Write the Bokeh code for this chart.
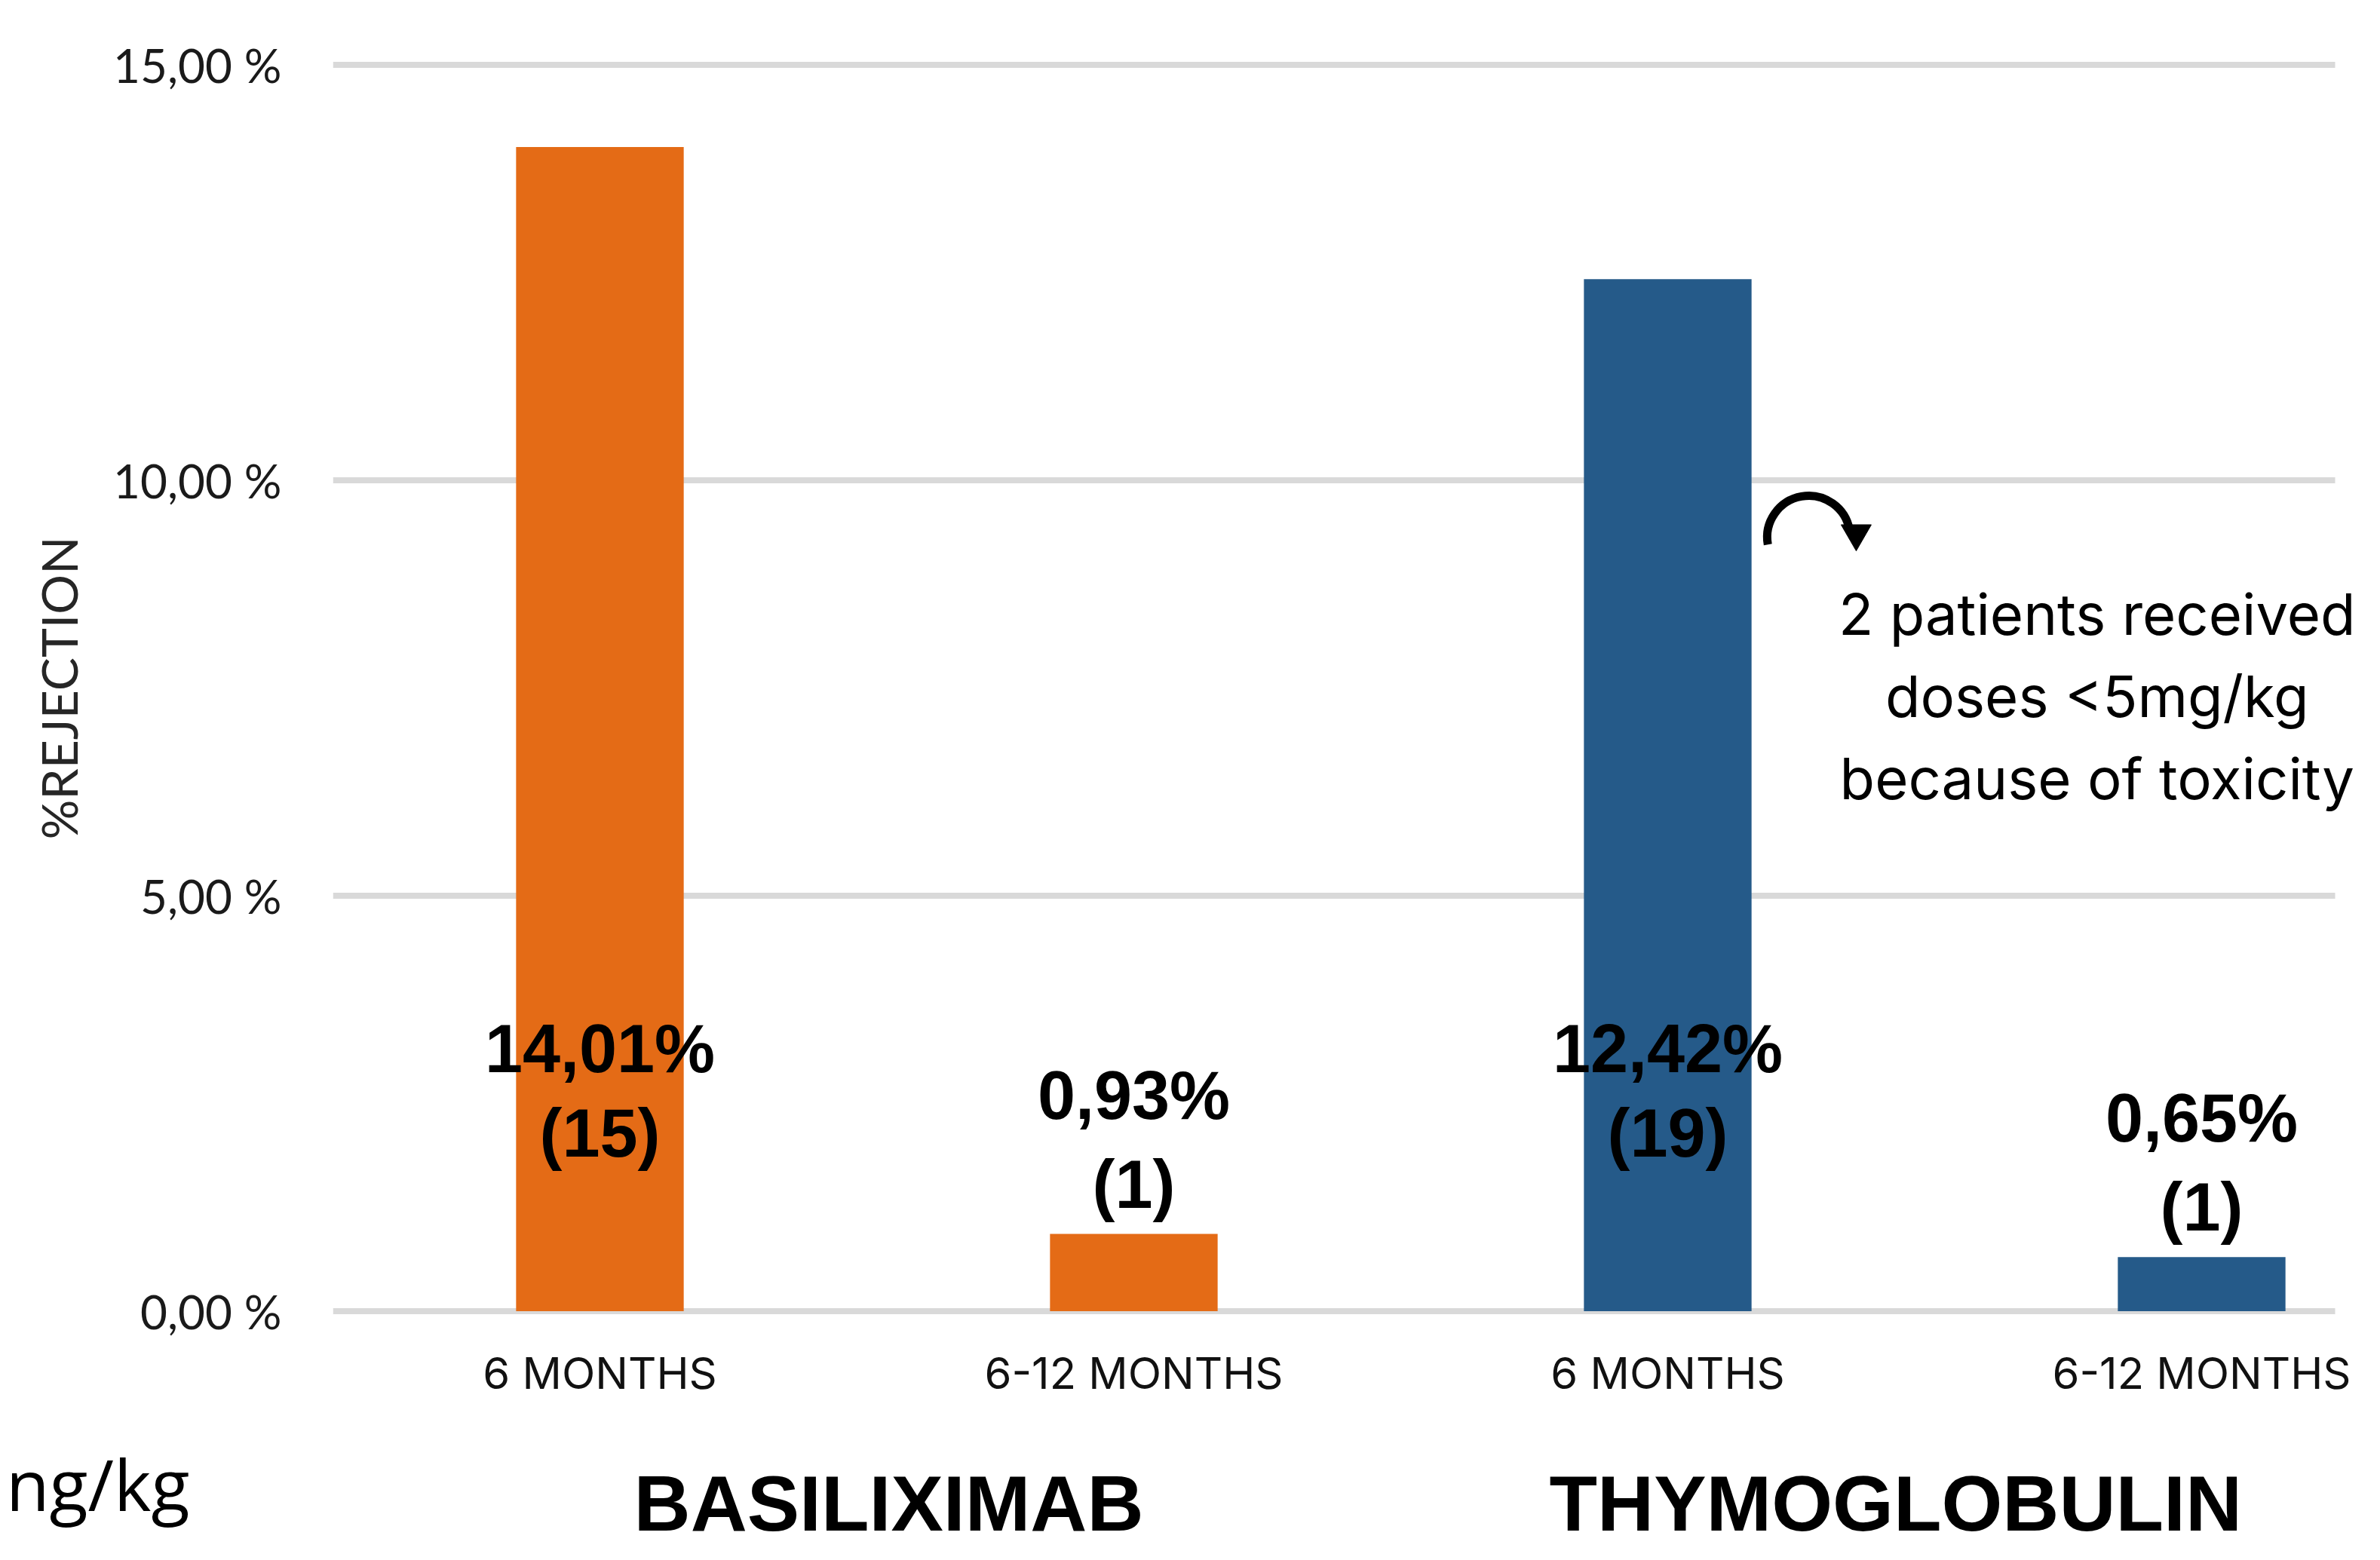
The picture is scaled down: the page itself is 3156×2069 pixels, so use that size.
from math import pi
from bokeh.plotting import figure
from bokeh.layouts import column
from bokeh.models import ColumnDataSource, Range1d, FixedTicker, Label
from bokeh.embed import file_html
from bokeh.resources import INLINE
from bokeh.core.properties import value

# ---------------- data ----------------
periods = ["6 MONTHS", "6-12 MONTHS", "6 MONTHS", "6-12 MONTHS"]
groups = ["BASILIXIMAB", "BASILIXIMAB", "THYMOGLOBULIN", "THYMOGLOBULIN"]
rejection_pct = [14.01, 0.93, 12.42, 0.65]
patients = [15, 1, 19, 1]
y_ticks = [0, 5, 10, 15]
y_tick_labels = ["0,00 %", "5,00 %", "10,00 %", "15,00 %"]
group_names = ["BASILIXIMAB", "THYMOGLOBULIN"]
note_lines = ["2 patients received", "doses <5mg/kg", "because of toxicity"]
axis_title = "%REJECTION"
cut_text = "ng/kg"

group_colors = {"BASILIXIMAB": "#E46B16", "THYMOGLOBULIN": "#255A89"}

# ---------------- layout constants ----------------
W = 3140
H_MAIN, H_BOTTOM = 1900, 153
LEFT, TOP, BOTTOM = 441, 80, 156
PX_PER_CAT = 708.0
x_end = (W - LEFT) / PX_PER_CAT

p = figure(width=W, height=H_MAIN,
           x_range=Range1d(0, x_end), y_range=Range1d(-0.05, 15.05),
           output_backend="svg", toolbar_location=None,
           min_border_left=LEFT, min_border_right=0,
           min_border_top=TOP, min_border_bottom=BOTTOM)
p.outline_line_color = None
p.xgrid.visible = False
p.ygrid.visible = False

xs = [i + 0.5 for i in range(len(periods))]
inside = [v > 5 for v in rejection_pct]
src = ColumnDataSource(dict(
    x=xs,
    pct=rejection_pct,
    color=[group_colors[g] for g in groups],
    t1=[f"{v:.2f}".replace(".", ",") + "%" for v in rejection_pct],
    t2=[f"({n})" for n in patients],
    ly=[0 if ins else v for ins, v in zip(inside, rejection_pct)],
    o1=[-348 if ins else -184 for ins in inside],
    o2=[-236 if ins else -66 for ins in inside],
))

# horizontal gridlines (plot area ends at 3.75 categories)
p.segment(x0=0, x1=3.75, y0=y_ticks, y1=y_ticks,
          line_color="#D9D9D9", line_width=8)

p.vbar(x="x", top="pct", bottom=0, width=0.314, color="color",
       line_color=None, source=src)

for tcol, ocol in (("t1", "o1"), ("t2", "o2")):
    p.text(x="x", y="ly", text=tcol, y_offset=ocol, source=src,
           text_align="center", text_baseline="middle",
           text_font=value("Liberation Sans"), text_font_style="bold",
           text_font_size="90px", text_color="black")

# y axis
p.yaxis.ticker = FixedTicker(ticks=y_ticks)
p.yaxis.major_label_overrides = {t: l for t, l in zip(y_ticks, y_tick_labels)}
p.yaxis.major_label_text_font = "Lato"
p.yaxis.major_label_text_font_size = "62px"
p.yaxis.major_label_text_color = "#1a1a1a"
p.yaxis.axis_line_color = None
p.yaxis.major_tick_line_color = None
p.yaxis.minor_tick_line_color = None
p.yaxis.major_label_standoff = 62
p.yaxis.axis_label = axis_title
p.yaxis.axis_label_text_font = "Lato"
p.yaxis.axis_label_text_font_style = "normal"
p.yaxis.axis_label_text_font_size = "66px"
p.yaxis.axis_label_text_color = "#262626"
p.yaxis.axis_label_standoff = 30

# x axis
p.xaxis.ticker = FixedTicker(ticks=xs)
p.xaxis.major_label_overrides = {x: l for x, l in zip(xs, periods)}
p.xaxis.major_label_text_font = "Inter"
p.xaxis.major_label_text_font_size = "58px"
p.xaxis.major_label_text_color = "#111111"
p.xaxis.axis_line_color = None
p.xaxis.major_tick_line_color = None
p.xaxis.minor_tick_line_color = None
p.xaxis.major_label_standoff = 35

# annotation note
note_y = [8.398, 7.409, 6.420]
for line, ny in zip(note_lines, note_y):
    p.add_layout(Label(x=3.304, y=ny, text=line, text_align="center",
                       text_baseline="middle", text_font="Inter",
                       text_font_size="76px", text_color="black"))

# curved arrow
p.arc(x=[2.764], y=[9.315], radius=55, radius_units="screen",
      start_angle=0.17, end_angle=3.32, direction="anticlock",
      line_width=11, line_color="black")
p.scatter(x=[2.853], y=[9.36], marker="inverted_triangle", size=40,
          fill_color="black", line_color="black")

# ---------------- bottom strip (group names) ----------------
p2 = figure(width=W, height=H_BOTTOM,
            x_range=p.x_range, y_range=Range1d(0, H_BOTTOM),
            output_backend="svg", toolbar_location=None,
            x_axis_location=None,
            min_border=0, min_border_left=LEFT)
p2.outline_line_color = None
p2.xgrid.visible = False
p2.ygrid.visible = False

# the cut-off fragment sits in the left margin, carried by the strip's own axis
p2.yaxis.ticker = FixedTicker(ticks=[42])
p2.yaxis.major_label_overrides = {42: cut_text}
p2.yaxis.major_label_text_font = "Open Sans"
p2.yaxis.major_label_text_font_size = "94px"
p2.yaxis.major_label_text_color = "black"
p2.yaxis.major_label_standoff = 190
p2.yaxis.major_tick_in = 0
p2.yaxis.major_tick_out = 0
p2.yaxis.minor_tick_in = 0
p2.yaxis.minor_tick_out = 0
p2.yaxis.axis_line_color = None
p2.yaxis.major_tick_line_color = None
p2.yaxis.minor_tick_line_color = None

group_offsets = {"BASILIXIMAB": 0.041, "THYMOGLOBULIN": -0.073}
gx_list = []
for g in group_names:
    gx = [x for x, gg in zip(xs, groups) if gg == g]
    gx_list.append(sum(gx) / len(gx) + group_offsets[g])
p2.text(x=gx_list, y=[60, 60], text=group_names, text_align="center",
        text_baseline="middle", text_font=value("Liberation Sans"),
        text_font_style="bold", text_font_size="104px", text_color="black")

layout = column(p, p2, spacing=0)
open("out.html", "w").write(file_html(layout, INLINE))
